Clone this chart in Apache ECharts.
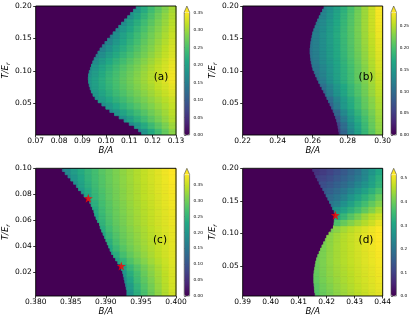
<!DOCTYPE html>
<html><head><meta charset="utf-8">
<script src="https://cdn.jsdelivr.net/npm/echarts@6/dist/echarts.min.js"></script>
<style>html,body{margin:0;padding:0;background:#fff}#c{width:412px;height:319px}</style>
</head><body><div id="c"></div>
<script>
// ---------------- DATA ----------------
// Each panel: x range (B/A), T range (T/E_r), boundary of the ordered region (B/A) read at 40 T-levels
// (bottom->top), and cell values on 20 rows (bottom->top); each row lists its right-most cells,
// the region left of the boundary is zero (purple).
const nCols = 20;

const xRangeA = [0.07, 0.13];
const tRangeA = [0.001, 0.2];
const boundA = [.1153,.1140,.1122,.1100,.1078,.1057,.1037,.1017,.1000,.0983,
                .0967,.0954,.0945,.0938,.0933,.0929,.0926,.0925,.0926,.0929,
                .0934,.0939,.0944,.0950,.0958,.0966,.0975,.0985,.0996,.1007,
                .1019,.1031,.1043,.1055,.1067,.1080,.1093,.1105,.1118,.1130];
const valsA = [
[.156,.18,.214,.242,.267,.29],
[.165,.189,.216,.239,.261,.281,.30],
[.177,.2,.223,.242,.261,.278,.294,.31],
[.165,.183,.205,.224,.241,.257,.273,.287,.301,.315],
[.172,.189,.209,.226,.242,.256,.27,.283,.296,.308,.32],
[.177,.193,.211,.227,.241,.255,.268,.28,.292,.303,.314,.325],
[.17,.187,.207,.223,.238,.252,.265,.277,.289,.3,.311,.322,.333],
[.182,.197,.216,.231,.246,.259,.272,.284,.296,.307,.319,.329,.34],
[.184,.201,.219,.235,.249,.263,.276,.288,.3,.312,.323,.334,.345],
[.178,.195,.214,.231,.246,.26,.273,.286,.299,.311,.322,.334,.345],
[.169,.185,.206,.223,.239,.254,.268,.281,.294,.307,.319,.33,.342],
[.17,.192,.211,.228,.244,.259,.273,.287,.3,.313,.326,.338],
[.153,.172,.195,.214,.231,.248,.263,.278,.292,.306,.32,.333],
[.155,.177,.2,.219,.237,.254,.271,.286,.301,.316,.33],
[.14,.16,.187,.208,.228,.246,.264,.28,.296,.311,.326],
[.154,.175,.2,.221,.24,.258,.275,.291,.307,.322],
[.164,.187,.21,.231,.25,.269,.286,.302,.318],
[.172,.197,.221,.242,.261,.28,.297,.314],
[.178,.205,.23,.252,.273,.292,.31],
[.187,.217,.242,.264,.285,.305]
];
const xTicksA = [0.07,0.08,0.09,0.10,0.11,0.12,0.13];
const yTicksA = [0.05,0.10,0.15,0.20];
const cbMaxA = 0.352;
const cbTicksA = [0,0.05,0.10,0.15,0.20,0.25,0.30,0.35];

const xRangeB = [0.22, 0.30];
const tRangeB = [0.001, 0.2];
const boundB = [.2751,.2748,.2745,.2741,.2737,.2731,.2724,.2716,.2708,.2699,
                .2690,.2681,.2672,.2663,.2653,.2643,.2634,.2625,.2617,.2609,
                .2601,.2596,.2592,.2589,.2587,.2585,.2585,.2587,.2589,.2592,
                .2596,.2600,.2606,.2613,.2620,.2628,.2637,.2646,.2656,.2665];
const valsB = [
[.052,.092,.13,.16,.187,.21,.232],
[.062,.101,.137,.166,.191,.214,.235],
[.078,.116,.148,.174,.197,.218,.238],
[.055,.095,.132,.16,.183,.204,.223,.241],
[.087,.119,.149,.172,.193,.212,.229,.245],
[.099,.128,.153,.175,.195,.214,.231,.248],
[.094,.118,.144,.166,.185,.203,.22,.237,.252],
[.105,.127,.149,.169,.188,.205,.222,.239,.255],
[.1,.118,.14,.16,.178,.195,.212,.227,.243,.258],
[.108,.125,.144,.162,.179,.196,.213,.229,.245,.261],
[.103,.112,.129,.146,.163,.18,.197,.213,.23,.247,.264],
[.107,.117,.134,.15,.167,.183,.2,.216,.233,.249,.266],
[.11,.121,.137,.154,.17,.186,.203,.219,.235,.252,.268],
[.111,.122,.138,.155,.171,.188,.204,.221,.237,.253,.27],
[.112,.122,.139,.156,.172,.189,.206,.222,.239,.255,.272],
[.113,.122,.139,.156,.173,.19,.206,.223,.24,.257,.274],
[.121,.137,.154,.172,.189,.207,.224,.241,.259,.276],
[.12,.133,.151,.169,.187,.205,.223,.241,.259,.277],
[.118,.127,.146,.165,.184,.203,.222,.24,.259,.278],
[.125,.141,.161,.18,.2,.22,.24,.259,.279]
];
const xTicksB = [0.22,0.24,0.26,0.28,0.30];
const yTicksB = [0.05,0.10,0.15,0.20];
const cbMaxB = 0.282;
const cbTicksB = [0,0.05,0.10,0.15,0.20,0.25];

const xRangeC = [0.38, 0.40];
const tRangeC = [0.002, 0.1];
const boundC = [.3930,.3930,.3929,.3928,.3927,.3926,.3925,.3924,.3922,.3921,
                .3917,.3914,.3911,.3908,.3906,.3904,.3902,.3900,.3898,.3896,
                .3894,.3892,.3891,.3888,.3886,.3884,.3883,.3881,.3879,.3877,
                .3874,.3869,.3865,.3861,.3858,.3854,.3850,.3846,.3842,.3838];
const valsC = [
[.135,.196,.241,.271,.296,.318,.337,.355],
[.166,.21,.249,.278,.301,.322,.34,.357],
[.186,.225,.26,.285,.307,.326,.343,.359],
[.201,.239,.269,.293,.313,.33,.346,.361],
[.217,.254,.279,.3,.318,.334,.349,.362],
[.217,.248,.275,.295,.312,.327,.34,.352,.364],
[.208,.24,.269,.289,.306,.32,.333,.345,.356,.366],
[.23,.258,.28,.298,.312,.325,.337,.347,.357,.367],
[.205,.242,.27,.289,.304,.317,.329,.34,.35,.359,.368],
[.228,.255,.277,.294,.308,.32,.332,.342,.351,.36,.369],
[.238,.264,.283,.298,.312,.323,.334,.344,.353,.362,.37],
[.221,.248,.272,.289,.303,.316,.327,.337,.347,.356,.364,.372],
[.23,.256,.277,.293,.306,.318,.329,.339,.348,.357,.365,.373],
[.234,.261,.28,.295,.308,.32,.33,.34,.349,.358,.366,.374],
[.216,.242,.266,.283,.298,.31,.322,.332,.342,.351,.36,.368,.376],
[.224,.251,.271,.287,.301,.313,.324,.334,.344,.352,.361,.369,.377],
[.206,.234,.257,.274,.289,.302,.314,.325,.335,.345,.354,.363,.371,.379],
[.189,.219,.243,.262,.278,.292,.304,.316,.326,.336,.346,.355,.364,.372,.38],
[.169,.2,.227,.248,.265,.279,.293,.305,.316,.327,.337,.347,.356,.364,.373,.381],
[.144,.179,.211,.233,.252,.267,.282,.294,.307,.318,.328,.338,.348,.357,.366,.375,.383]
];
const xTicksC = [0.380,0.385,0.390,0.395,0.400];
const yTicksC = [0.02,0.04,0.06,0.08,0.10];
const cbMaxC = 0.383;
const cbTicksC = [0,0.05,0.10,0.15,0.20,0.25,0.30,0.35];
const starsC = [[0.3875,0.077],[0.3922,0.025]];

const xRangeD = [0.39, 0.44];
const tRangeD = [0.004, 0.2];
const boundD = [.4159,.4157,.4156,.4155,.4154,.4154,.4154,.4155,.4157,.4159,
                .4161,.4164,.4168,.4173,.4178,.4183,.4189,.4195,.4200,.4208,
                .4216,.4224,.4226,.4227,.4229,.4231,.4227,.4221,.4216,.4210,
                .4204,.4198,.4192,.4186,.4179,.4173,.4167,.4161,.4156,.4150];
const valsD = [
[.378,.396,.412,.427,.44,.452,.464,.474,.485,.495],
[.383,.402,.418,.433,.445,.457,.469,.48,.49,.5],
[.39,.408,.424,.437,.45,.461,.473,.483,.493,.503],
[.394,.412,.428,.441,.453,.464,.476,.486,.496,.506],
[.397,.414,.43,.444,.456,.467,.478,.489,.498,.508],
[.4,.415,.432,.446,.458,.469,.48,.491,.501,.51],
[.399,.414,.432,.446,.459,.471,.482,.492,.502,.512],
[.413,.43,.446,.459,.471,.483,.494,.504,.514],
[.412,.428,.445,.459,.472,.484,.495,.506,.516],
[.425,.443,.458,.472,.484,.496,.507,.517],
[.408,.426,.446,.462,.477,.49,.503,.515],
[.37,.37,.395,.42,.44,.458,.478,.5],
[.31,.345,.38,.41,.44,.462,.48],
[.25,.27,.3,.33,.36,.39,.42,.45],
[.205,.225,.26,.295,.33,.36,.39,.42],
[.17,.18,.2,.23,.265,.3,.33,.36,.395],
[.145,.16,.18,.205,.235,.265,.3,.33,.365],
[.12,.125,.14,.16,.18,.205,.235,.265,.3,.335],
[.095,.105,.12,.14,.16,.185,.21,.24,.285,.325],
[.078,.09,.105,.125,.145,.17,.195,.235,.27,.31]
];
const xTicksD = [0.39,0.40,0.41,0.42,0.43,0.44];
const yTicksD = [0.05,0.10,0.15,0.20];
const cbMaxD = 0.517;
const cbTicksD = [0,0.1,0.2,0.3,0.4,0.5];
const starsD = [[0.4231,0.128]];

const letters = ['(a)','(b)','(c)','(d)'];

// ---------------- LAYOUT / STYLE ----------------
const viridis = ['#440154','#482475','#414487','#355f8d','#2a788e','#21918c','#22a884','#44bf70','#7ad151','#bddf26','#fde725'];
const LAY = [
  {grid:{left:35.7, top:6, width:140.3, height:129}, cb:{left:184.2, top:12.14, width:5.4, height:122.86, arrow:6.14}, letter:[161,77], xDec:2, cbDec:2},
  {grid:{left:242.7, top:6, width:140, height:129}, cb:{left:391, top:12.14, width:5.4, height:122.86, arrow:6.14}, letter:[366,77], xDec:2, cbDec:2},
  {grid:{left:35.7, top:168.3, width:140.3, height:127.7}, cb:{left:184.2, top:174.38, width:5.4, height:121.62, arrow:6.08}, letter:[160,240.5], xDec:3, cbDec:2},
  {grid:{left:242.7, top:168.3, width:140, height:127.7}, cb:{left:391, top:174.38, width:5.4, height:121.62, arrow:6.08}, letter:[366,240.5], xDec:2, cbDec:1}
];
const FONT = 'DejaVu Sans';

const panels = [
  {xr:xRangeA, tr:tRangeA, b:boundA, v:valsA, xt:xTicksA, yt:yTicksA, cbMax:cbMaxA, cbt:cbTicksA, stars:null},
  {xr:xRangeB, tr:tRangeB, b:boundB, v:valsB, xt:xTicksB, yt:yTicksB, cbMax:cbMaxB, cbt:cbTicksB, stars:null},
  {xr:xRangeC, tr:tRangeC, b:boundC, v:valsC, xt:xTicksC, yt:yTicksC, cbMax:cbMaxC, cbt:cbTicksC, stars:starsC},
  {xr:xRangeD, tr:tRangeD, b:boundD, v:valsD, xt:xTicksD, yt:yTicksD, cbMax:cbMaxD, cbt:cbTicksD, stars:starsD}
];

// cells: [x0, x1, t0, t1, value]; first item is the zero (disordered) background of the panel
function buildCells(p) {
  const dx = (p.xr[1]-p.xr[0])/nCols, nSub = p.b.length, dt = (p.tr[1]-p.tr[0])/nSub, per = nSub/p.v.length;
  const out = [[p.xr[0], p.xr[1], p.tr[0], p.tr[1], 0]];
  for (let s = 0; s < nSub; s++) {
    const tail = p.v[Math.floor(s/per)];
    const t0 = p.tr[0] + s*dt, t1 = t0 + dt, b = p.b[s];
    const off = nCols - tail.length;
    let first = true;
    tail.forEach((val, k) => {
      const left = p.xr[0] + (off+k)*dx, r = left + dx;
      if (r <= b + 1e-9) return;
      const l = first ? b : Math.max(left, b);
      first = false;
      out.push([l, r, t0, t1, val]);
    });
  }
  return out;
}

function renderCell(params, api) {
  const p0 = api.coord([api.value(0), api.value(3)]);
  const p1 = api.coord([api.value(1), api.value(2)]);
  const col = api.visual('color');
  const bg = params.dataIndex === 0;
  return {type:'rect', shape:{x:p0[0], y:p0[1], width:p1[0]-p0[0], height:p1[1]-p0[1]},
          style: bg ? {fill:col} : {fill:col, stroke:col, lineWidth:0.8}};
}

const STAR = 'path://M0,-50 L11.8,-16.2 L47.6,-15.5 L19,6.2 L29.4,40.5 L0,20 L-29.4,40.5 L-19,6.2 L-47.6,-15.5 L-11.8,-16.2 Z';

const gridMain = [], gridCb = [], xMain = [], xCb = [], yMain = [], yCb = [], series = [], visualMap = [], graphic = [];
panels.forEach((p, i) => {
  const L = LAY[i];
  gridMain.push(Object.assign({show:true, borderColor:'#000', borderWidth:0.9, z:10, backgroundColor:'transparent'}, L.grid));
  xMain.push({gridIndex:i, type:'value', min:p.xr[0], max:p.xr[1],
    axisLine:{show:false}, splitLine:{show:false},
    axisTick:{show:true, length:2.5, customValues:p.xt, lineStyle:{color:'#000', width:0.8}},
    axisLabel:{customValues:p.xt, fontSize:7.5, fontFamily:FONT, color:'#000', margin:2.5, formatter:v=>v.toFixed(L.xDec)},
    name:'B/A', nameLocation:'middle', nameGap:10,
    nameTextStyle:{fontStyle:'italic', fontSize:8.5, fontFamily:FONT, color:'#000'}});
  yMain.push({gridIndex:i, type:'value', min:p.tr[0], max:p.tr[1],
    axisLine:{show:false}, splitLine:{show:false},
    axisTick:{show:true, length:2.5, customValues:p.yt, lineStyle:{color:'#000', width:0.8}},
    axisLabel:{customValues:p.yt, fontSize:7.5, fontFamily:FONT, color:'#000', margin:4, formatter:v=>v.toFixed(2)},
    name:'{i|T/E}{s|r}', nameLocation:'middle', nameRotate:90, nameGap:21,
    nameTextStyle:{rich:{
      i:{fontStyle:'italic', fontSize:8.5, fontFamily:FONT, color:'#000'},
      s:{fontStyle:'italic', fontSize:6, fontFamily:FONT, color:'#000', padding:[4,0,0,0]}}}});
  series.push({type:'custom', xAxisIndex:i, yAxisIndex:i, renderItem:renderCell, clip:true,
    encode:{x:[0,1], y:[2,3]}, data:buildCells(p), silent:true});
  visualMap.push({type:'continuous', seriesIndex:i, dimension:4, min:0, max:p.cbMax,
    inRange:{color:viridis}, show:true, calculable:false, padding:0, itemWidth:L.cb.width, itemHeight:L.cb.height,
    left:L.cb.left, top:L.cb.top, text:null, hoverLink:false});
  gridCb.push({left:L.cb.left, top:L.cb.top, width:L.cb.width, height:L.cb.height, show:false});
  xCb.push({gridIndex:4+i, type:'value', show:false, min:0, max:1});
  yCb.push({gridIndex:4+i, type:'value', position:'right', min:0, max:p.cbMax,
    axisLine:{show:false}, splitLine:{show:false},
    axisTick:{show:true, length:2, customValues:p.cbt, lineStyle:{color:'#222', width:0.6}},
    axisLabel:{customValues:p.cbt, fontSize:4.2, fontFamily:FONT, color:'#000', margin:4, formatter:v=>v.toFixed(L.cbDec)}});
  const l = L.cb.left, r = L.cb.left + L.cb.width, t = L.cb.top, btm = L.cb.top + L.cb.height, tip = t - L.cb.arrow;
  graphic.push({type:'polygon', z:100, shape:{points:[[l,t],[r,t],[(l+r)/2,tip]]}, style:{fill:viridis[viridis.length-1]}});
  graphic.push({type:'polyline', z:101, shape:{points:[[l,btm],[l,t],[(l+r)/2,tip],[r,t],[r,btm],[l,btm]]}, style:{fill:null, stroke:'#444', lineWidth:0.6}});
  graphic.push({type:'text', z:100, x:L.letter[0], y:L.letter[1],
    style:{text:letters[i], fontSize:10.5, fontFamily:FONT, fill:'#000', align:'center', verticalAlign:'middle'}});
});
panels.forEach((p, i) => {
  if (!p.stars) return;
  series.push({type:'scatter', xAxisIndex:i, yAxisIndex:i, data:p.stars, symbol:STAR, symbolSize:9,
    itemStyle:{color:'#ff0000'}, z:5, silent:true});
});

const chart = echarts.init(document.getElementById('c'), null, {renderer:'canvas'});
chart.setOption({animation:false, textStyle:{fontFamily:FONT},
  grid: gridMain.concat(gridCb), xAxis: xMain.concat(xCb), yAxis: yMain.concat(yCb),
  series, visualMap, graphic});
</script>
</body></html>
